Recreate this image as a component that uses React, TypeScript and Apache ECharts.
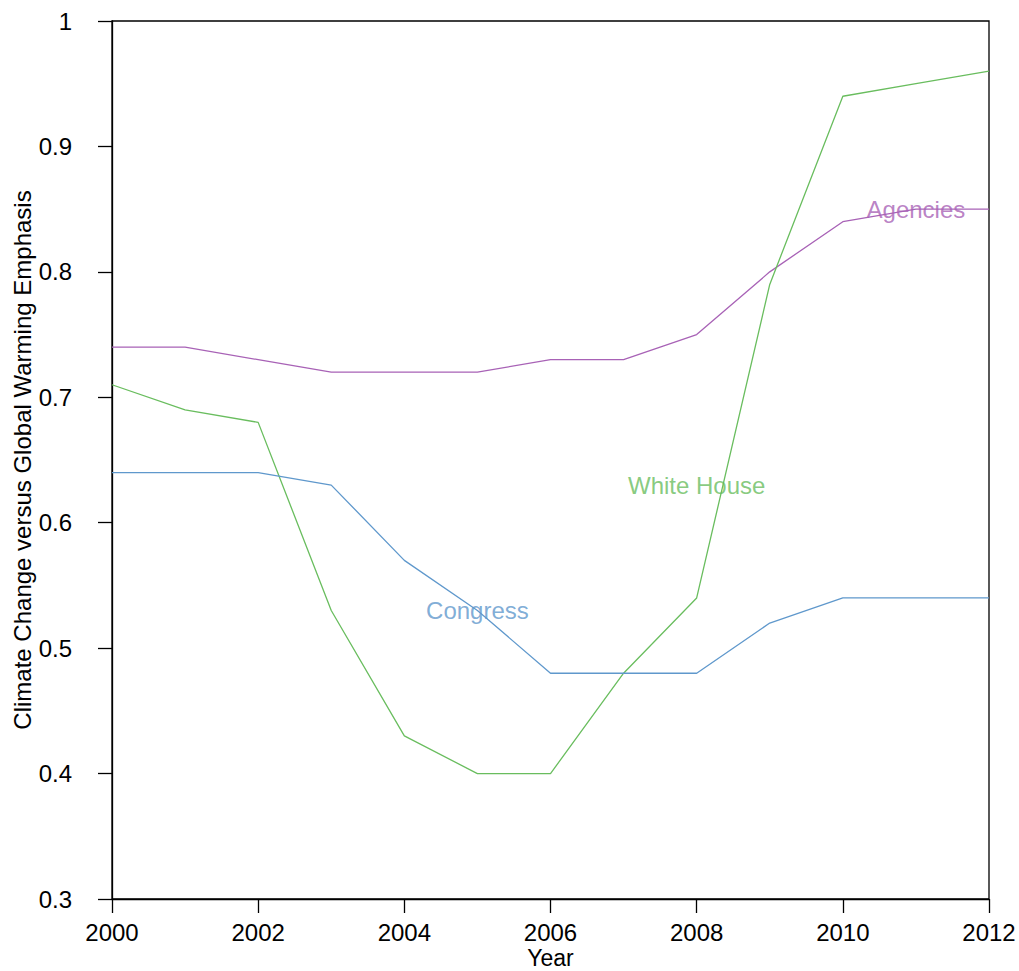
import React, { useEffect, useRef } from "react";
import * as echarts from "echarts";

const years = [2000, 2001, 2002, 2003, 2004, 2005, 2006, 2007, 2008, 2009, 2010, 2011, 2012];
const agencies = [0.74, 0.74, 0.73, 0.72, 0.72, 0.72, 0.73, 0.73, 0.75, 0.8, 0.84, 0.85, 0.85];
const whiteHouse = [0.71, 0.69, 0.68, 0.53, 0.43, 0.4, 0.4, 0.48, 0.54, 0.79, 0.94, 0.95, 0.96];
const congress = [0.64, 0.64, 0.64, 0.63, 0.57, 0.53, 0.48, 0.48, 0.48, 0.52, 0.54, 0.54, 0.54];

const seriesNames = ["Agencies", "White House", "Congress"];
const seriesColors = ["#a862b6", "#69bd5e", "#5f98cc"];
const labelPositions: [number, number][] = [
  [2011, 0.85],
  [2008, 0.63],
  [2005, 0.53],
];

const FONT = "Liberation Sans, Arial, sans-serif";
const FS = 24;

export default function App() {
  const ref = useRef<HTMLDivElement>(null);
  useEffect(() => {
    if (!ref.current) return;
    const chart = echarts.init(ref.current, undefined, { renderer: "svg" });
    const values = [agencies, whiteHouse, congress];
    const lineSeries = values.map((vals, i) => ({
      type: "line",
      name: seriesNames[i],
      data: years.map((y, j) => [y, vals[j]]),
      showSymbol: false,
      symbol: "none",
      lineStyle: { color: seriesColors[i], width: 1.3 },
      itemStyle: { color: seriesColors[i] },
      z: 2,
    }));
    const labelSeries = seriesNames.map((name, i) => ({
      type: "scatter",
      name: name + " label",
      data: [labelPositions[i]],
      symbolSize: 1,
      itemStyle: { color: "rgba(0,0,0,0)" },
      label: {
        show: true,
        position: "inside",
        formatter: name,
        color: seriesColors[i],
        fontFamily: FONT,
        fontSize: FS,
      },
      z: 3,
    }));
    chart.setOption({
      animation: false,
      backgroundColor: "#ffffff",
      textStyle: { fontFamily: FONT },
      grid: {
        left: 112,
        right: 30,
        top: 21,
        bottom: 72,
        outerBoundsMode: "none",
        containLabel: false,
        show: true,
        borderColor: "#000",
        borderWidth: 1.3,
        backgroundColor: "transparent",
      },
      xAxis: {
        type: "value",
        min: 2000,
        max: 2012,
        interval: 2,
        name: "Year",
        nameLocation: "middle",
        nameGap: 47,
        nameMoveOverlap: false,
        nameTextStyle: { fontSize: 23, lineHeight: 23, color: "#000", fontFamily: FONT },
        axisLine: { show: true, onZero: false, lineStyle: { color: "#000", width: 1.3 } },
        axisTick: { show: true, length: 14, inside: false, lineStyle: { color: "#000", width: 1.3 } },
        axisLabel: {
          fontSize: FS,
          lineHeight: 24,
          color: "#000",
          margin: 21,
          fontFamily: FONT,
          formatter: (v: number) => String(v),
        },
        splitLine: { show: false },
      },
      yAxis: {
        type: "value",
        min: 0.3,
        max: 1,
        interval: 0.1,
        name: "Climate Change versus Global Warming Emphasis",
        nameLocation: "middle",
        nameGap: 78,
        nameMoveOverlap: false,
        nameTextStyle: { fontSize: FS, color: "#000", fontFamily: FONT },
        axisLine: { show: true, onZero: false, lineStyle: { color: "#000", width: 1.3 } },
        axisTick: { show: true, length: 14, inside: false, lineStyle: { color: "#000", width: 1.3 } },
        axisLabel: {
          fontSize: FS,
          color: "#000",
          margin: 40,
          fontFamily: FONT,
          formatter: (v: number) => String(parseFloat(v.toFixed(2))),
        },
        splitLine: { show: false },
      },
      series: [...lineSeries, ...labelSeries],
    });
    return () => chart.dispose();
  }, []);
  return (
    <div
      ref={ref}
      style={{ position: "fixed", left: 0, top: 0, width: 1019, height: 971, background: "#fff" }}
    />
  );
}
